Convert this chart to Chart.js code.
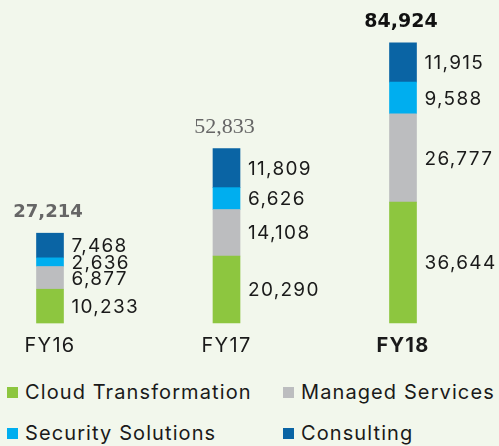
<!DOCTYPE html>
<html>
<head>
<meta charset="utf-8">
<script src="https://cdn.jsdelivr.net/npm/chart.js@4"></script>
<style>
  html, body { margin: 0; padding: 0; background: #f2f7ec; }
  #wrap { position: relative; width: 499px; height: 446px; }
  #chartBox { position: absolute; left: 0; top: 0; width: 499px; height: 370px; }
  #legend { position: absolute; left: 7px; top: 380px; width: 492px;
    display: grid; grid-template-columns: 276px 216px; row-gap: 17px;
    font-family: Inter, sans-serif; font-size: 20px; letter-spacing: 1.1px; color: #1a1a1a; }
  #legend div { display: flex; align-items: center; height: 24px; white-space: nowrap; }
  #legend span.box { display: inline-block; width: 11px; height: 11px; margin-right: 7px; }
</style>
</head>
<body>
<div id="wrap">
  <div id="chartBox"><canvas id="revChart"></canvas></div>
  <div id="legend"></div>
</div>
<script>
const years = ['FY16', 'FY17', 'FY18'];
const cloud = [10233, 20290, 36644];
const managed = [6877, 14108, 26777];
const security = [2636, 6626, 9588];
const consulting = [7468, 11809, 11915];
const totals = [27214, 52833, 84924];

const seriesNames = ['Cloud Transformation', 'Managed Services', 'Security Solutions', 'Consulting'];
const seriesColors = ['#8dc63f', '#bcbdbf', '#00aeef', '#0a64a4'];

// total label styles per year (the source mixes fonts)
const totalFonts = ['bold 18px "DejaVu Sans"', '22px "Liberation Serif"', 'bold 19px "DejaVu Sans"'];
const totalColors = ['#666666', '#666666', '#111111'];

const fmt = v => v.toLocaleString('en-US');

const labelPlugin = {
  id: 'labels',
  beforeDraw(chart) {
    chart.ctx.letterSpacing = '1.3px';
  },
  afterDatasetsDraw(chart) {
    const ctx = chart.ctx;
    ctx.save();
    ctx.textBaseline = 'middle';
    ctx.font = '19px Inter';
    ctx.fillStyle = '#1a1a1a';
    ctx.textAlign = 'left';
    chart.data.datasets.forEach((ds, di) => {
      chart.getDatasetMeta(di).data.forEach((bar, i) => {
        const y = (bar.y + bar.base) / 2 + 1;
        ctx.fillText(fmt(ds.data[i]), bar.x + bar.width / 2 + 8, y);
      });
    });
    const topMeta = chart.getDatasetMeta(chart.data.datasets.length - 1);
    ctx.textAlign = 'center';
    ctx.letterSpacing = '0px';
    topMeta.data.forEach((bar, i) => {
      ctx.font = totalFonts[i];
      ctx.fillStyle = totalColors[i];
      ctx.fillText(fmt(totals[i]), bar.x - 2, bar.y - 21);
    });
    ctx.restore();
  }
};

const seriesData = [cloud, managed, security, consulting];

const chart = new Chart(document.getElementById('revChart').getContext('2d'), {
  type: 'bar',
  data: {
    labels: years,
    datasets: seriesNames.map((name, i) => ({
      label: name,
      data: seriesData[i],
      backgroundColor: seriesColors[i],
      barThickness: 27,
      clip: false
    }))
  },
  options: {
    responsive: true,
    maintainAspectRatio: false,
    animation: false,
    layout: { padding: { left: 50, right: 96, top: 26, bottom: 1 } },
    scales: {
      x: {
        stacked: true,
        offset: false,
        grid: { display: false, drawTicks: false },
        border: { display: false },
        ticks: {
          autoSkip: false,
          maxRotation: 0,
          padding: 11,
          color: '#1a1a1a',
          font: c => ({ family: 'Inter', size: 20, weight: c.index === 2 ? 'bold' : 'normal' })
        }
      },
      y: {
        stacked: true,
        display: false,
        min: 0,
        max: 90000
      }
    },
    plugins: {
      legend: { display: false },
      tooltip: { enabled: false }
    }
  },
  plugins: [labelPlugin]
});

// legend in a two-column grid, built from the chart datasets
const legendEl = document.getElementById('legend');
chart.data.datasets.forEach(ds => {
  const item = document.createElement('div');
  item.innerHTML = '<span class="box" style="background:' + ds.backgroundColor + '"></span>' + ds.label;
  legendEl.appendChild(item);
});
</script>
</body>
</html>
